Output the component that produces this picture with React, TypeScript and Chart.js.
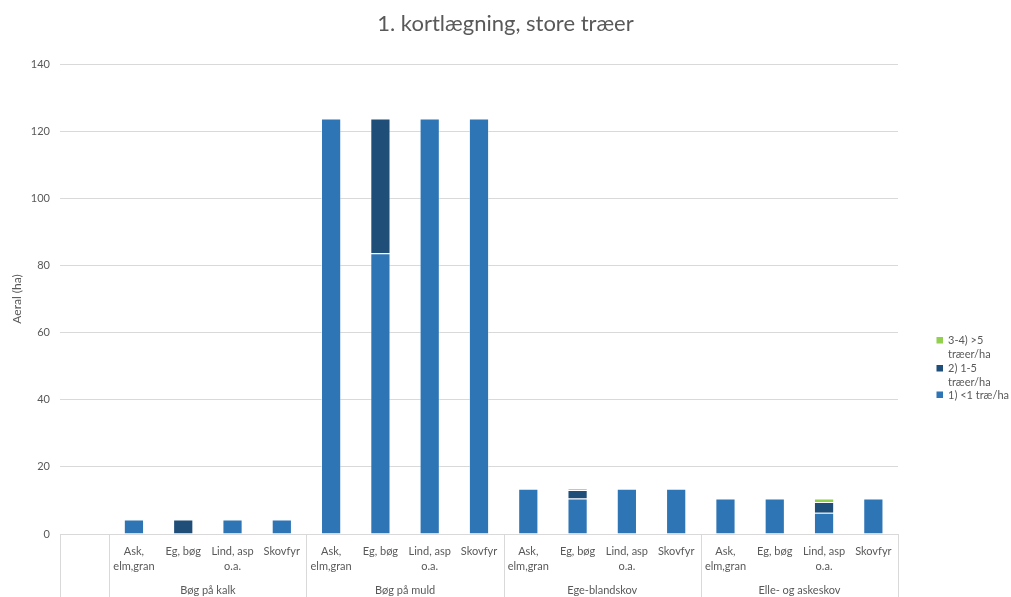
import React, { useEffect, useRef } from "react";
import { Chart, registerables } from "chart.js";

Chart.register(...registerables);

const groupNames = ["Bøg på kalk", "Bøg på muld", "Ege-blandskov", "Elle- og askeskov"];
const species: (string | string[])[] = [["Ask,", "elm,gran"], "Eg, bøg", ["Lind, asp", "o.a."], "Skovfyr"];
const categories: (string | string[])[] = ["", ...species, ...species, ...species, ...species];

const seriesNames = ["1) <1 træ/ha", "2) 1-5 træer/ha", "3-4) >5 træer/ha"];
const legendLines = [["1) <1 træ/ha"], ["2) 1-5", "træer/ha"], ["3-4) >5", "træer/ha"]];
const seriesColors = ["#2E75B6", "#1F4E79", "#92D050"];

const lessThanOne = [null, 4.3, null, 4.3, 4.3, 123.8, 83.6, 123.8, 123.8, 13.5, 10.6, 13.5, 13.5, 10.6, 10.6, 6.3, 10.6];
const oneToFive = [null, null, 4.3, null, null, null, 40.2, null, null, null, 2.5, null, null, null, null, 3.2, null];
const moreThanFive = [null, null, null, null, null, null, null, null, null, null, 0.4, null, null, null, null, 1.1, null];

const yTicks = { min: 0, max: 140, step: 20 };

const TEXT = "#595959";
const GRID = "#d9d9d9";
const FONT = "Lato, 'Liberation Sans', sans-serif";

const decorPlugin = {
  id: "decor",
  afterDraw(chart: any) {
    const { ctx, chartArea } = chart;
    const x = chart.scales.x;
    const half = (x.getPixelForValue(1) - x.getPixelForValue(0)) / 2;
    const n = categories.length;
    const edge = (i: number) => (i < n ? x.getPixelForValue(i) - half : x.getPixelForValue(n - 1) + half);
    const bounds = [0, 1, 5, 9, 13, 17];
    ctx.save();
    ctx.strokeStyle = GRID;
    ctx.lineWidth = 1;
    bounds.forEach((b) => {
      const px = Math.round(edge(b)) + 0.5;
      ctx.beginPath();
      ctx.moveTo(px, chartArea.bottom);
      ctx.lineTo(px, chart.height);
      ctx.stroke();
    });
    ctx.fillStyle = TEXT;
    ctx.font = `11px ${FONT}`;
    ctx.textAlign = "center";
    ctx.textBaseline = "middle";
    groupNames.forEach((g, i) => {
      const cx = (edge(1 + i * 4) + edge(5 + i * 4)) / 2;
      ctx.fillText(g, cx, 590);
    });
    // legend (reverse order)
    ctx.textAlign = "left";
    const rows = [
      { s: 2, y: 340.5 },
      { s: 1, y: 368.5 },
      { s: 0, y: 395 },
    ];
    rows.forEach(({ s, y }) => {
      ctx.fillStyle = seriesColors[s];
      ctx.fillRect(936.5, y - 3.5, 6.5, 6.5);
      ctx.fillStyle = TEXT;
      legendLines[s].forEach((line, li) => {
        ctx.fillText(line, 948, y + li * 14);
      });
    });
    ctx.restore();
  },
};

export default function App() {
  const ref = useRef<HTMLCanvasElement>(null);
  useEffect(() => {
    if (!ref.current) return;
    const mk = (i: number, data: (number | null)[]) => ({
      label: seriesNames[i],
      data,
      backgroundColor: seriesColors[i],
      borderColor: "rgba(255,255,255,0.35)",
      borderWidth: 1,
      barPercentage: 0.41,
      categoryPercentage: 1,
      yAxisID: "y",
    });
    const chart = new Chart(ref.current, {
      type: "bar",
      data: {
        labels: categories,
        datasets: [mk(0, lessThanOne), mk(1, oneToFive), mk(2, moreThanFive)],
      },
      plugins: [decorPlugin],
      options: {
        animation: false,
        responsive: false,
        devicePixelRatio: 1,
        layout: { padding: 0 },
        plugins: {
          legend: { display: false },
          tooltip: { enabled: false },
          title: {
            display: true,
            text: "1. kortlægning, store træer",
            color: TEXT,
            font: { family: FONT, size: 22, weight: "normal" },
            padding: { top: 11, bottom: 26.6 },
          },
        },
        scales: {
          x: {
            stacked: true,
            grid: { display: false, drawTicks: false },
            border: { display: true, color: GRID },
            ticks: {
              color: TEXT,
              font: { family: FONT, size: 11, lineHeight: 1.36 },
              autoSkip: false,
              maxRotation: 0,
              minRotation: 0,
              padding: 10,
            },
            afterFit: (s: any) => {
              s.height = 63;
            },
          },
          y: {
            stacked: true,
            min: yTicks.min,
            max: yTicks.max,
            grid: { color: GRID, drawTicks: false },
            border: { display: false },
            ticks: {
              stepSize: yTicks.step,
              color: TEXT,
              font: { family: FONT, size: 11 },
              padding: 10,
            },
            title: {
              display: true,
              text: "Aeral (ha)",
              color: TEXT,
              font: { family: FONT, size: 12 },
              padding: { top: 10, bottom: 0 },
            },
            afterFit: (s: any) => {
              s.width = 60;
            },
          },
          spacer: {
            type: "linear",
            position: "right",
            display: true,
            grid: { display: false, drawTicks: false },
            border: { display: false },
            ticks: { display: false },
            afterFit: (s: any) => {
              s.width = 113;
            },
          },
        },
      },
    } as any);
    return () => chart.destroy();
  }, []);
  return (
    <div style={{ position: "absolute", left: 0, top: 0, width: 1011, height: 597 }}>
      <canvas ref={ref} width={1011} height={597} />
    </div>
  );
}
